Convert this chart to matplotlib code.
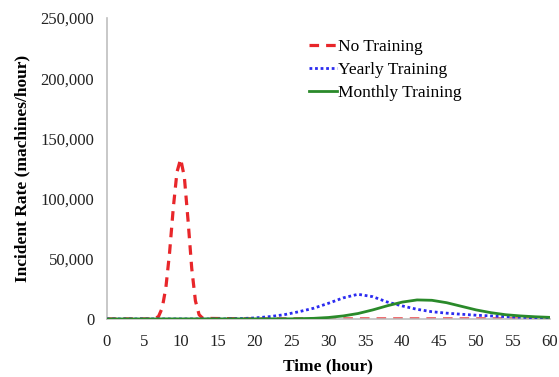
"""
Incident rate curves for three training scenarios
"""
import matplotlib
matplotlib.use('Agg')
import matplotlib.pyplot as plt
from matplotlib.ticker import FuncFormatter, MultipleLocator

# Data
no_training_t = [0, 6, 6.5, 7, 7.5, 8, 8.5, 9, 9.5, 10, 10.5, 11, 11.5, 12, 12.5, 13, 20, 30, 40, 50, 60]
no_training_v = [0, 0, 300, 2000, 9000, 26000, 55000, 92000, 122000, 133000, 118000, 82000,
                 42000, 15000, 3500, 500, 0, 0, 0, 0, 0]

yearly_t = [0, 16, 18, 20, 22, 24, 26, 28, 30, 32, 34, 36, 38, 40, 42, 44, 46, 48, 50, 52, 54, 56, 58, 60]
yearly_v = [0, 0, 300, 800, 1900, 3500, 6000, 8900, 13000, 17500, 20500, 18500, 14000, 10800,
            8000, 6000, 4800, 3900, 3100, 2500, 1900, 1400, 1000, 600]

monthly_t = [0, 25, 28, 30, 32, 34, 36, 38, 40, 42, 44, 46, 48, 50, 52, 54, 56, 58, 60]
monthly_v = [0, 100, 500, 1200, 2500, 4500, 7500, 11000, 14000, 15800, 15500, 13500, 10500,
             7500, 5200, 3500, 2500, 1800, 1300]

x_ticks = list(range(0, 61, 5))

plt.rcParams['font.family'] = ['Liberation Serif', 'DejaVu Serif']

fig = plt.figure(figsize=(5.59, 3.77), dpi=100)
ax = fig.add_axes([0.191, 0.154, 0.793, 0.798])

ax.plot(no_training_t, no_training_v, color='#e8262a', linestyle=(0, (3, 2.2)),
        linewidth=2.3, label='No Training', zorder=2)
ax.plot(yearly_t, yearly_v, color='#2b2bf0', linestyle=(0, (1, 1)),
        linewidth=2, label='Yearly Training', zorder=3)
ax.plot(monthly_t, monthly_v, color='#2a8a2a', linestyle='-',
        linewidth=2, label='Monthly Training', zorder=4)

ax.set_xlim(0, 60)
ax.set_ylim(0, 250000)
ax.set_xticks(x_ticks)
ax.yaxis.set_major_locator(MultipleLocator(50000))
ax.yaxis.set_major_formatter(FuncFormatter(lambda v, p: f'{int(v):,}'))

for s in ['top', 'right']:
    ax.spines[s].set_visible(False)
for s in ['left', 'bottom']:
    ax.spines[s].set_color('#bfbfbf')
    ax.spines[s].set_linewidth(1.2)
ax.tick_params(length=0, labelsize=12, colors='#222222')
ax.tick_params(axis='x', pad=11)
ax.tick_params(axis='y', pad=9)

ax.set_xlabel('Time (hour)', fontsize=12.5, fontweight='bold', labelpad=6)
ax.set_ylabel('Incident Rate (machines/hour)', fontsize=12.5, fontweight='bold', labelpad=7)

ax.legend(loc='upper left', bbox_to_anchor=(0.44, 0.955), frameon=False, fontsize=12.5,
          handlelength=1.6, handletextpad=0.1, labelspacing=0.4, borderaxespad=0)

fig.savefig('out.png', dpi=100)
